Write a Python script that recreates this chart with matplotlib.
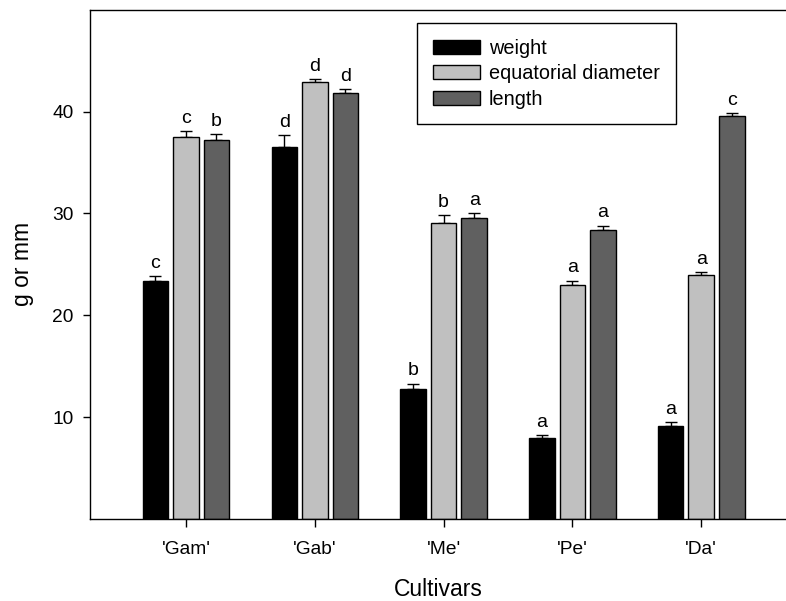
import numpy as np
import matplotlib
matplotlib.use('Agg')
import matplotlib.pyplot as plt

plt.rcParams['font.family'] = ['Liberation Sans', 'DejaVu Sans']

cultivars = ["'Gam'", "'Gab'", "'Me'", "'Pe'", "'Da'"]
series = ['weight', 'equatorial diameter', 'length']

weight = [23.4, 36.5, 12.8, 8.0, 9.15]
weight_err = [0.45, 1.2, 0.5, 0.2, 0.35]
weight_letters = ['c', 'd', 'b', 'a', 'a']

diameter = [37.55, 42.9, 29.1, 23.0, 24.0]
diameter_err = [0.5, 0.3, 0.7, 0.4, 0.2]
diameter_letters = ['c', 'd', 'b', 'a', 'a']

length = [37.25, 41.8, 29.55, 28.4, 39.6]
length_err = [0.5, 0.4, 0.5, 0.4, 0.25]
length_letters = ['b', 'd', 'a', 'a', 'c']

colors = ['#000000', '#c0c0c0', '#606060']

fig = plt.figure(figsize=(7.86, 6.01), dpi=100)
ax = fig.add_axes([0.1145, 0.1364, 0.8855, 0.8475])

x = np.arange(len(cultivars))
width = 0.198
step = 0.237

data = [(weight, weight_err, weight_letters),
        (diameter, diameter_err, diameter_letters),
        (length, length_err, length_letters)]

for i, (vals, errs, letters) in enumerate(data):
    pos = x + (i - 1) * step
    ax.bar(pos, vals, width, color=colors[i], edgecolor='black', linewidth=1,
           label=series[i], zorder=2)
    ax.errorbar(pos, vals, yerr=[np.zeros(len(vals)), errs], fmt='none',
                ecolor='black', elinewidth=1, capsize=4.3, capthick=1, zorder=1)
    # significance letters above each error bar
    for p, v, e, t in zip(pos, vals, errs, letters):
        ax.annotate(t, (p, v + e), xytext=(0, 6), textcoords='offset points',
                    ha='center', va='baseline', fontsize=14)

ax.set_xlim(-0.745, 4.658)
ax.set_ylim(0, 50)
ax.set_yticks([10, 20, 30, 40])
ax.set_xticks(x)
ax.set_xticklabels(cultivars)
ax.tick_params(axis='x', length=5.5, width=1, pad=10, labelsize=13.8)
ax.tick_params(axis='y', length=5, width=1, pad=7, labelsize=13.8)
ax.spines['right'].set_visible(False)
for s in ['left', 'top', 'bottom']:
    ax.spines[s].set_linewidth(1)

ax.set_xlabel('Cultivars', fontsize=16.5, labelpad=15)
ax.set_ylabel('g or mm', fontsize=16.5, labelpad=13)

leg = ax.legend(loc='upper left', bbox_to_anchor=(417 / 786, 1 - 23 / 601),
                bbox_transform=fig.transFigure, fontsize=14.3, frameon=True,
                fancybox=False, edgecolor='black', framealpha=1,
                handlelength=2.37, handleheight=0.7, handletextpad=0.45,
                labelspacing=0.32, borderpad=0.8, borderaxespad=0)
leg.get_frame().set_linewidth(1)

fig.savefig('out.png', dpi=100)
